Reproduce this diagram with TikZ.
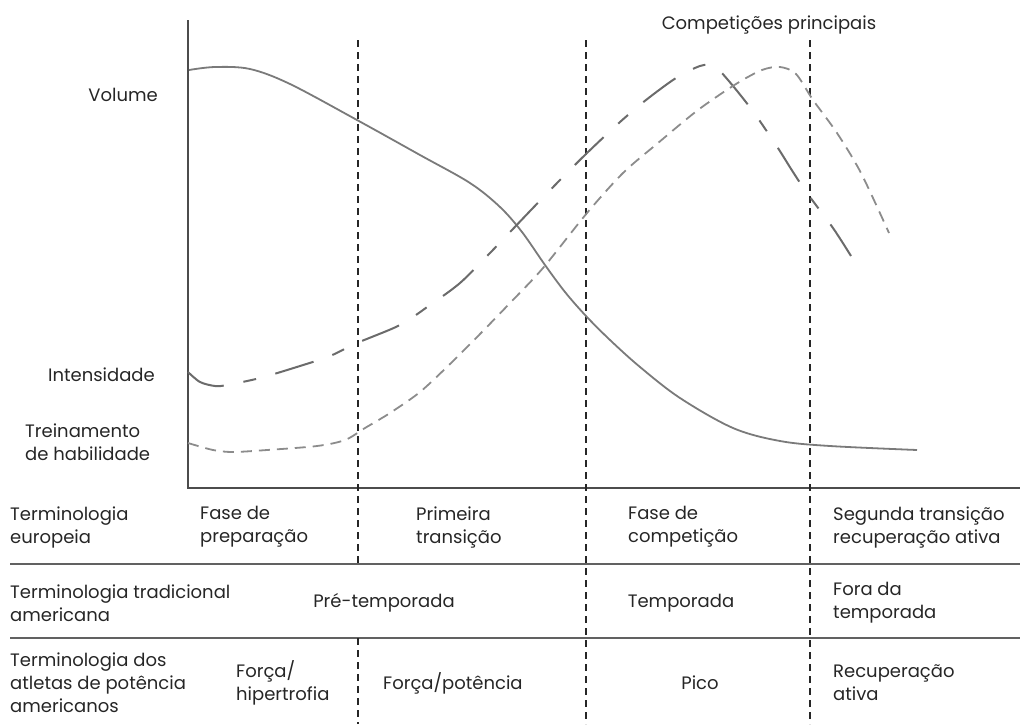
\documentclass[tikz,border=0pt]{standalone}
\usepackage{fontspec}
\setmainfont{Poppins}
\begin{document}
\begin{tikzpicture}[x=1pt,y=-1pt,
  txt/.style={font=\fontsize{18}{23}\selectfont, text=black!85, inner sep=0pt, align=left},
  axisline/.style={draw=black!70, line width=2.6pt},
  rowline/.style={draw=black!62, line width=1.8pt},
  phaseline/.style={draw=black!85, line width=2.8pt, dash pattern=on 7pt off 5pt},
  volcurve/.style={draw=black!52, line width=1.8pt},
  intcurve/.style={draw=black!58, line width=2pt, dash pattern=on 40pt off 20pt on 13pt off 20pt},
  skillcurve/.style={draw=black!45, line width=1.8pt, dash pattern=on 11pt off 7pt},
]
\useasboundingbox (0,0) rectangle (1020,724);

% axes and table grid
\coordinate (axtop) at (188,20);
\coordinate (axcorner) at (188,488);
\coordinate (axright) at (1020,488);
\coordinate (r1l) at (10,564);  \coordinate (r1r) at (1020,564);
\coordinate (r2l) at (10,638);  \coordinate (r2r) at (1020,638);
\draw[axisline] (axtop) -- (axcorner) -- (axright);
\draw[rowline] (r1l) -- (r1r);
\draw[rowline] (r2l) -- (r2r);

% phase boundaries
\coordinate (pa1) at (358,40);  \coordinate (pa2) at (358,564);
\coordinate (pa3) at (358,638); \coordinate (pa4) at (358,724);
\coordinate (pb1) at (586,40);  \coordinate (pb2) at (586,724);
\coordinate (pc1) at (810,40);  \coordinate (pc2) at (810,724);
\draw[phaseline] (pa1) -- (pa2);
\draw[phaseline] (pa3) -- (pa4);
\draw[phaseline] (pb1) -- (pb2);
\draw[phaseline] (pc1) -- (pc2);

% training curves
\draw[volcurve] plot[smooth, tension=0.55] coordinates {
  (189,70) (215,67) (250,69) (290,84) (357,120) (420,155) (470,183)
  (500,207) (522,232) (545,265) (565,292) (586,316) (610,340) (640,367)
  (680,398) (733,428) (780,441) (830,446) (917,450)};
\draw[intcurve] plot[smooth, tension=0.5] coordinates {
  (188,372) (200,382) (215,386) (227,385) (260,378) (300,366) (330,356)
  (357,343) (400,325) (430,305) (460,283) (490,253) (531,210) (560,180)
  (587,153) (620,122) (646,100) (676,78) (700,66) (714,66) (728,80)
  (752,110) (776,145) (793,172) (807,193) (833,228) (851,256)};
\draw[skillcurve] plot[smooth, tension=0.5] coordinates {
  (188,443) (213,450) (233,452) (267,450) (317,446) (345,440) (365,428)
  (390,413) (420,392) (450,364) (480,334) (510,303) (543,268)
  (587,213) (623,173) (658,143) (698,110) (736,84) (762,70) (780,67)
  (796,74) (813,100) (837,133) (861,173) (889,233)};

% curve labels
\node[txt, anchor=east] (volume) at (158,95) {Volume};
\node[txt, anchor=east] (intens) at (155,375) {Intensidade};
\node[txt, anchor=west] (skill) at (25,442) {Treinamento\\de habilidade};
\node[txt] (comp) at (769,25) {Competições principais};

% row 1
\node[txt, anchor=west] (h1) at (10,527) {Terminologia\\europeia};
\node[txt, anchor=west] (c11) at (200,527) {Fase de\\preparação};
\node[txt, anchor=west] (c12) at (416,527) {Primeira\\transição};
\node[txt, anchor=west] (c13) at (628,527) {Fase de\\competição};
\node[txt, anchor=west] (c14) at (833,527) {Segunda transição\\recuperação ativa};

% row 2
\node[txt, anchor=west] (h2) at (10,603) {Terminologia tradicional\\americana};
\node[txt] (c21) at (384,603) {Pré-temporada};
\node[txt] (c22) at (681,603) {Temporada};
\node[txt, anchor=west] (c23) at (833,603) {Fora da\\temporada};

% row 3
\node[txt, anchor=west] (h3) at (10,683) {Terminologia dos\\atletas de potência\\americanos};
\node[txt, anchor=west] (c31) at (236,683) {Força/\\hipertrofia};
\node[txt, anchor=west] (c32) at (383,683) {Força/potência};
\node[txt] (c33) at (700,683) {Pico};
\node[txt, anchor=west] (c34) at (833,683) {Recuperação\\ativa};
\end{tikzpicture}
\end{document}
